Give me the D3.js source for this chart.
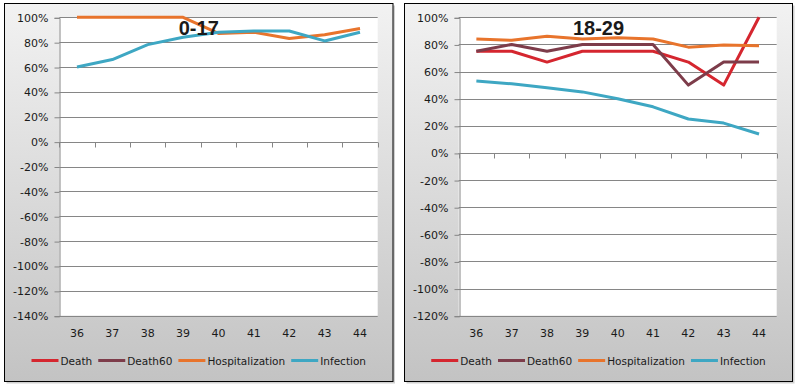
<!DOCTYPE html>
<html>
<head>
<meta charset="utf-8">
<script src="https://cdn.jsdelivr.net/npm/d3@7"></script>
<style>
  body { margin: 0; background: #fff; }
  svg text { font-family: "DejaVu Sans", sans-serif; fill: #1a1a1a; }
</style>
</head>
<body>
<div id="chart"></div>
<script>
var weeks = ["36", "37", "38", "39", "40", "41", "42", "43", "44"];
var seriesNames = ["Death", "Death60", "Hospitalization", "Infection"];
var seriesColors = ["#d5262f", "#7d3c4a", "#e8742c", "#3ea7c3"];

// 0-17 (no deaths in this age group)
var death_0_17 = [];
var death60_0_17 = [];
var hosp_0_17 = [100, 100, 100, 100, 87, 88, 83, 86, 91];
var infect_0_17 = [60, 66, 78, 84, 88, 89, 89, 81, 88];

// 18-29
var death_18_29 = [75, 75, 67, 75, 75, 75, 67, 50, 100];
var death60_18_29 = [75, 80, 75, 80, 80, 80, 50, 67, 67];
var hosp_18_29 = [84, 83, 86, 84, 85, 84, 78, 79.5, 79];
var infect_18_29 = [53, 51, 48, 45, 40, 34, 25, 22, 14];

var yTicksLeft = [-140, -120, -100, -80, -60, -40, -20, 0, 20, 40, 60, 80, 100];
var yTicksRight = [-120, -100, -80, -60, -40, -20, 0, 20, 40, 60, 80, 100];

var W = 797, H = 388;
var svg = d3.select("#chart").append("svg")
    .attr("width", W)
    .attr("height", H);

var defs = svg.append("defs");
var grad = defs.append("linearGradient")
    .attr("id", "bg")
    .attr("x1", "0%").attr("y1", "0%")
    .attr("x2", "0%").attr("y2", "100%");
grad.append("stop").attr("offset", "0%").attr("stop-color", "#f2f2f2");
grad.append("stop").attr("offset", "100%").attr("stop-color", "#c3c3c3");

function drawPanel(opts) {
    var px = opts.x, py = 3.5, pw = opts.w, ph = 378;

    // shadow + frame
    svg.append("rect")
        .attr("x", px + 2).attr("y", py + 2)
        .attr("width", pw).attr("height", ph)
        .attr("fill", "#b0b0b0").attr("opacity", 0.6);
    svg.append("rect")
        .attr("x", px).attr("y", py)
        .attr("width", pw).attr("height", ph)
        .attr("fill", "url(#bg)")
        .attr("stroke", "#000").attr("stroke-width", 1);

    var x = d3.scaleBand().domain(weeks).range([opts.left, opts.right]);
    var y = d3.scaleLinear().domain(opts.domain).range([315.7, 17.3]);

    var g = svg.append("g");

    g.append("rect")
        .attr("x", opts.left).attr("y", y(opts.domain[1]))
        .attr("width", opts.right - opts.left)
        .attr("height", y(opts.domain[0]) - y(opts.domain[1]))
        .attr("fill", "#fff");

    // gridlines
    g.selectAll(".grid")
        .data(opts.ticks)
        .enter().append("line")
        .attr("x1", opts.left).attr("x2", opts.right)
        .attr("y1", d => Math.round(y(d)) + 0.5)
        .attr("y2", d => Math.round(y(d)) + 0.5)
        .attr("stroke", "#868686").attr("stroke-width", 1);

    // y axis
    var yAxis = d3.axisLeft(y)
        .tickValues(opts.ticks)
        .tickSize(5)
        .tickPadding(6)
        .tickFormat(d => d + "%");
    var ya = g.append("g")
        .attr("transform", "translate(" + (Math.round(opts.left) + 0.5) + ",0.5)")
        .call(yAxis);
    ya.select(".domain").attr("stroke", "#868686");
    ya.selectAll(".tick line").attr("stroke", "#868686");
    ya.selectAll("text")
        .style("font-family", "DejaVu Sans")
        .style("font-size", "11px")
        .attr("fill", "#1a1a1a");

    // x axis at zero line, ticks at band edges
    var y0 = Math.round(y(0)) + 0.5;
    var edges = weeks.map(w => x(w)).concat([opts.right]);
    g.selectAll(".xt")
        .data(edges)
        .enter().append("line")
        .attr("x1", d => Math.round(d) + 0.5).attr("x2", d => Math.round(d) + 0.5)
        .attr("y1", y0).attr("y2", y0 + 5)
        .attr("stroke", "#868686");
    g.append("line")
        .attr("x1", opts.left).attr("x2", opts.right)
        .attr("y1", y0).attr("y2", y0)
        .attr("stroke", "#868686");

    g.selectAll(".xl")
        .data(weeks)
        .enter().append("text")
        .attr("x", d => x(d) + x.bandwidth() / 2)
        .attr("y", 337)
        .attr("text-anchor", "middle")
        .style("font-size", "11px")
        .text(d => d);

    // series lines
    var line = d3.line()
        .x((d, i) => x(weeks[i]) + x.bandwidth() / 2)
        .y(d => y(d));
    opts.series.forEach((vals, k) => {
        if (!vals.length) return;
        g.append("path")
            .datum(vals)
            .attr("d", line)
            .attr("fill", "none")
            .attr("stroke", seriesColors[k])
            .attr("stroke-width", 3)
            .attr("stroke-linejoin", "round");
    });

    // title
    g.append("text")
        .attr("x", px + pw / 2)
        .attr("y", 35)
        .attr("text-anchor", "middle")
        .style("font-family", "Liberation Sans")
        .style("font-weight", "bold")
        .style("font-size", "20px")
        .attr("fill", "#000")
        .text(opts.title);

    // legend
    var lg = g.append("g");
    var cx = 0;
    seriesNames.forEach((name, k) => {
        var item = lg.append("g").attr("transform", "translate(" + cx + ",0)");
        item.append("line")
            .attr("x1", 0).attr("x2", 27)
            .attr("y1", 0).attr("y2", 0)
            .attr("stroke", seriesColors[k]).attr("stroke-width", 3);
        var t = item.append("text")
            .attr("x", 29).attr("y", 4)
            .style("font-size", "10.5px")
            .text(name);
        cx += 29 + t.node().getComputedTextLength() + 6;
    });
    var lw = cx - 6;
    lg.attr("transform", "translate(" + (px + pw / 2 - lw / 2) + ",360.5)");
}

drawPanel({
    x: 4.5, w: 388.5, left: 59.3, right: 377.7,
    domain: [-140, 100], ticks: yTicksLeft, title: "0-17",
    series: [death_0_17, death60_0_17, hosp_0_17, infect_0_17]
});
drawPanel({
    x: 404.5, w: 388, left: 458.7, right: 776.7,
    domain: [-120, 100], ticks: yTicksRight, title: "18-29",
    series: [death_18_29, death60_18_29, hosp_18_29, infect_18_29]
});
</script>
</body>
</html>
